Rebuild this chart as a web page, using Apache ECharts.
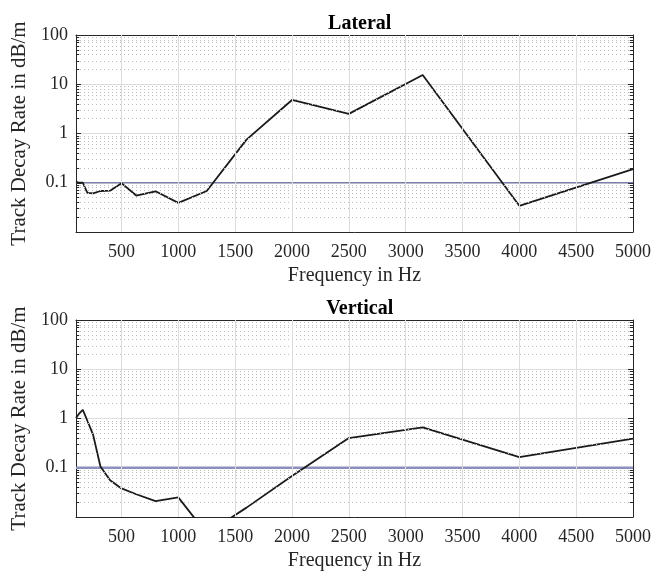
<!DOCTYPE html>
<html><head><meta charset="utf-8">
<script src="https://cdn.jsdelivr.net/npm/echarts@6/dist/echarts.min.js"></script>
<style>html,body{margin:0;padding:0;background:#fff}#c{width:654px;height:573px}</style>
</head><body><div id="c"></div>
<script>
// ---- data ----
const freqs = [100,125,160,200,250,315,400,500,630,800,1000,1250,1600,2000,2500,3150,4000,5000];
const lateral = [0.105,0.1,0.1,0.062,0.061,0.068,0.069,0.098,0.055,0.067,0.039,0.068,0.75,4.8,2.5,15.4,0.034,0.19];
const vertical = [1.02,1.24,1.5,0.9,0.47,0.106,0.056,0.038,0.029,0.021,0.025,0.0046,0.0155,0.068,0.4,0.66,0.164,0.39];
const threshold = 0.1;
const xTicks = [500,1000,1500,2000,2500,3000,3500,4000,4500,5000];
const xGridLines = [500,1000,1500,2000,2500,3000,3500,4000,4500];
const yDecades = [0.01,0.1,1,10];
const titles = ['Lateral','Vertical'];
const xName = 'Frequency in Hz';
const yName = 'Track Decay Rate in dB/m';
const xMin = 100, xMax = 5000, yMin = 0.01, yMax = 100;

// ---- layout ----
const FONT = '"Liberation Serif","DejaVu Serif",serif';
const TXT = '#262626';
const grids = [
  {left:76, top:35, width:557.5, height:197},
  {left:76, top:320, width:557.5, height:197}
];
const titleY = [9, 294];
const series = [];

const minorVals = [];
yDecades.forEach(d => { for (let m = 2; m <= 9; m++) minorVals.push(+(m*d).toPrecision(3)); });

function fmtY(v){ const n = +(+v).toPrecision(3); return n <= yMin*1.0001 ? '' : String(n); }
function fmtX(v){ return String(Math.round(v)); }

const xAxes = [], yAxes = [];
grids.forEach((g, i) => {
  const common = {min:xMin, max:xMax, gridIndex:i, type:'value',
    axisLine:{show:true, lineStyle:{color:TXT, width:1}},
    splitLine:{show:false}};
  xAxes.push(Object.assign({}, common, {position:'bottom',
    name:xName, nameLocation:'middle', nameGap:34,
    nameTextStyle:{fontFamily:FONT, fontSize:20, color:TXT},
    axisTick:{show:true, inside:true, length:5, customValues:xTicks, lineStyle:{color:TXT}},
    axisLabel:{show:true, customValues:xTicks, margin:11, fontFamily:FONT, fontSize:18, color:TXT, formatter:fmtX}
  }));
  xAxes.push(Object.assign({}, common, {position:'top',
    axisTick:{show:true, inside:true, length:5, customValues:xTicks, lineStyle:{color:TXT}},
    axisLabel:{show:false}
  }));
  const ycommon = {type:'log', logBase:10, min:yMin, max:yMax, gridIndex:i,
    axisLine:{show:true, lineStyle:{color:TXT, width:1}},
    axisTick:{show:true, inside:true, length:5, lineStyle:{color:TXT}}};
  yAxes.push(Object.assign({}, ycommon, {position:'left',
    name:yName, nameLocation:'middle', nameGap:40, nameRotate:90,
    nameTextStyle:{fontFamily:FONT, fontSize:21, color:TXT},
    splitLine:{show:true, lineStyle:{color:'#dcdcdc', width:1}},
    axisLabel:{show:true, margin:8, fontFamily:FONT, fontSize:18, color:TXT, formatter:fmtY}
  }));
  yAxes.push(Object.assign({}, ycommon, {position:'right',
    splitLine:{show:false}, axisLabel:{show:false}}));

  const xi = i*2, yi = i*2;
  // grid helper lines
  const ml = [];
  minorVals.forEach(v => ml.push({yAxis:v, lineStyle:{color:'#bdbdbd', width:1, type:[1,3]}}));
  xGridLines.forEach(x => ml.push({xAxis:x, lineStyle:{color:'#dcdcdc', width:1, type:'solid'}}));
  // minor ticks on left and right
  minorVals.forEach(v => {
    ml.push([{coord:[xMin, v], lineStyle:{color:TXT, width:1, type:'solid'}}, {coord:[xMin+28, v]}]);
    ml.push([{coord:[xMax-28, v], lineStyle:{color:TXT, width:1, type:'solid'}}, {coord:[xMax, v]}]);
  });
  series.push({type:'line', xAxisIndex:xi, yAxisIndex:yi, data:[], silent:true, z:1,
    markLine:{silent:true, symbol:['none','none'], label:{show:false}, animation:false, data:ml}});
  // threshold
  series.push({type:'line', xAxisIndex:xi, yAxisIndex:yi, z:2, silent:true, symbol:'none',
    data:[[xMin, threshold],[xMax, threshold]],
    lineStyle: i===0 ? {color:'#4f5491', width:1.2} : {color:'#8d8fbc', width:2.6}});
  // data
  const vals = i===0 ? lateral : vertical;
  series.push({type:'line', xAxisIndex:xi, yAxisIndex:yi, z:3, clip:true, symbol:'none',
    data: freqs.map((f,k)=>[f, vals[k]]),
    lineStyle:{color:'#1a1a1a', width:1.8}});
});

const chart = echarts.init(document.getElementById('c'), null, {renderer:'canvas'});
chart.setOption({
  animation:false,
  backgroundColor:'#fff',
  title: titles.map((t,i)=>({text:t, left:354.75, textAlign:'center', top:titleY[i],
    textStyle:{fontFamily:FONT, fontSize:20, fontWeight:'bold', color:'#000'}})),
  grid: grids,
  xAxis: xAxes,
  yAxis: yAxes,
  series: series
});
</script></body></html>
